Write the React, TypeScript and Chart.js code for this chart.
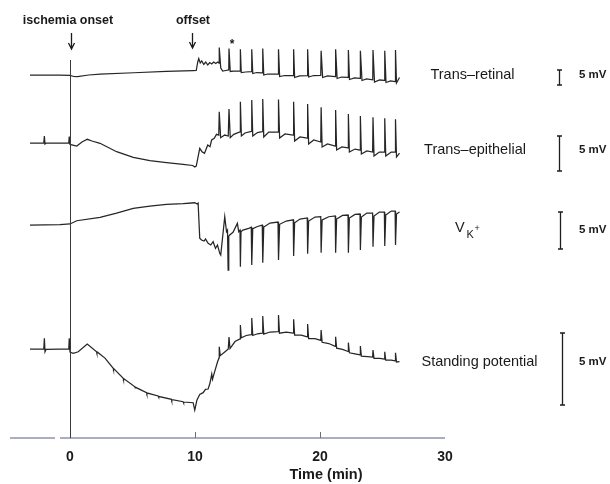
import { useEffect, useRef } from 'react';
import { Chart, registerables } from 'chart.js';

Chart.register(...registerables);

const FONT = "'Liberation Sans', Arial, Helvetica, sans-serif";

// Time axis (min)
const timeTicks = [0, 10, 20, 30];

// Traces: [time (min), potential change (mV) relative to baseline]
const transRetinal: [number, number][] = [
  [-3.2, 0], [-2.1, 0], [-0.8, -0.05], [0, -0.1], [0.3, -0.5], [0.6, -0.55], [1.5, 0], [2.4, 0.3], [5.1, 0.75], [7.7, 1.2], [9.85, 1.45], [10.1, 1.5],
  [10.22, 4.33], [10.3, 5.5], [10.42, 4.0], [10.54, 4.67], [10.7, 3.5], [10.86, 4.33], [11.02, 3.33], [11.18, 4.17], [11.34, 3.67], [11.5, 4.33], [11.66, 3.83], [11.82, 4.33], [11.92, 4.0],
  [11.94, 9.17], [12.06, 2.33], [12.22, 1.33], [12.46, 1.5], [12.7, 1.67],
  [12.72, 8.83], [12.82, 1.17], [13.1, 1.33], [13.6, 1.33],
  [13.63, 8.57], [13.7, 0.83], [14.06, 1.0], [14.51, 1.1],
  [14.54, 8.57], [14.62, 0.5], [14.94, 0.83], [15.38, 0.73],
  [15.42, 8.83], [15.5, 0], [15.81, 0.33], [16.64, 0.33],
  [16.68, 8.57], [16.77, -0.5], [17.17, -0.17], [17.86, -0.17],
  [17.89, 8.57], [17.97, -0.83], [18.37, -0.33], [18.99, -0.17],
  [19.01, 8.57], [19.09, -0.67], [19.49, -0.17], [20.06, -0.1],
  [20.09, 8.1], [20.21, -0.83], [20.61, -0.33], [21.22, -0.5],
  [21.25, 8.57], [21.37, -1.17], [21.73, -0.67], [22.24, -0.77],
  [22.27, 8.33], [22.36, -1.5], [22.76, -1.0], [23.2, -1.1],
  [23.23, 8.1], [23.36, -1.83], [23.72, -1.33], [24.22, -1.6],
  [24.24, 8.33], [24.36, -2.33], [24.76, -1.67], [25.16, -1.83],
  [25.18, 8.1], [25.28, -2.5], [25.64, -2.0], [26.02, -2.17],
  [26.04, 8.33], [26.12, -2.67], [26.36, -0.83],
];

const transEpithelial: [number, number][] = [
  [-3.2, 0], [-2.1, 0], [-2.05, 1.0], [-2.0, -0.14], [-1.9, 0], [-0.8, 0], [-0.1, 0], [-0.06, 0.93], [0, -0.21], [0.54, -0.43], [0.96, 0.14], [1.38, 0.53], [1.76, 0.29], [2.4, -0.04], [3.73, -1.24], [5.06, -2.04], [6.39, -2.53], [7.72, -2.81], [9.05, -3.04], [9.82, -3.21], [9.98, -3.43], [10.1, -3.3],
  [10.38, -0.76], [10.56, -1.24], [10.76, -1.47], [11.02, -0.29], [11.2, -0.53], [11.33, 0.43], [11.54, 0.67], [11.72, 1.24], [11.9, 1.14],
  [11.94, 4.47], [12.05, 0.76], [12.38, 1.14], [12.66, 1.0],
  [12.72, 4.86], [12.82, 0.76], [13.1, 1.24], [13.6, 1.6],
  [13.63, 5.9], [13.71, 1.0], [14.0, 1.43], [14.51, 1.67],
  [14.54, 6.14], [14.62, 1.0], [15.0, 1.5], [15.38, 1.62],
  [15.42, 6.29], [15.5, 0.86], [15.9, 1.57], [16.64, 1.57],
  [16.68, 6.21], [16.77, 0.71], [17.2, 1.29], [17.86, 1.14],
  [17.89, 5.9], [17.97, 0.29], [18.4, 0.86], [18.98, 0.71],
  [19.01, 5.57], [19.09, -0.14], [19.5, 0.43], [20.06, 0.14],
  [20.09, 5.1], [20.17, -0.57], [20.6, -0.14], [21.22, -0.43],
  [21.25, 4.71], [21.33, -1.0], [21.75, -0.57], [22.24, -0.71],
  [22.27, 4.14], [22.35, -1.29], [22.8, -0.86], [23.2, -1.0],
  [23.23, 3.86], [23.31, -1.57], [23.75, -1.14], [24.21, -1.29],
  [24.24, 3.67], [24.32, -1.86], [24.75, -1.29], [25.15, -1.29],
  [25.18, 3.53], [25.26, -1.86], [25.7, -1.29], [26.01, -1.29],
  [26.04, 3.39], [26.12, -2.0], [26.36, -1.43],
];

const vK: [number, number][] = [
  [-3.2, 0], [-0.8, 0.04], [0, 0.14], [0.54, 0.58], [2.4, 1.04], [3.73, 1.62], [5.06, 2.26], [6.39, 2.57], [7.72, 2.8], [9.05, 2.9], [9.98, 3.01], [10.18, 2.84], [10.25, 2.95],
  [10.38, -1.78], [10.52, -2.03], [10.73, -2.16], [10.84, -1.89], [11.05, -2.47], [11.26, -2.7], [11.45, -2.25], [11.64, -3.15], [11.8, -2.7], [11.98, -3.82], [12.06, -4.05],
  [12.38, 1.12], [12.52, -0.9], [12.6, -0.68],
  [12.65, -6.08], [12.7, -1.5], [12.78, -1.35], [13.04, -0.99], [13.39, 0.22], [13.5, -0.9], [13.6, -0.7],
  [13.63, -5.63], [13.68, -0.9], [13.83, -0.68], [14.3, -0.45], [14.5, -0.3],
  [14.54, -5.41], [14.62, -0.5], [15.0, -0.2], [15.38, 0],
  [15.42, -5.09], [15.5, -0.27], [16.0, 0.27], [16.64, 0.4],
  [16.68, -4.73], [16.77, 0.1], [17.3, 0.54], [17.86, 0.7],
  [17.89, -4.19], [17.97, 0.3], [18.4, 0.81], [18.98, 0.95],
  [19.01, -3.87], [19.09, 0.54], [19.6, 1.08], [20.06, 1.12],
  [20.09, -3.74], [20.17, 0.68], [20.7, 1.12], [21.22, 1.22],
  [21.25, -3.74], [21.33, 0.81], [21.8, 1.3], [22.24, 1.35],
  [22.27, -3.74], [22.35, 0.95], [22.8, 1.44], [23.2, 1.49],
  [23.23, -3.38], [23.31, 1.08], [23.75, 1.62], [24.21, 1.62],
  [24.24, -2.93], [24.32, 1.22], [24.75, 1.76], [25.15, 1.76],
  [25.18, -2.84], [25.26, 1.35], [25.7, 1.89], [26.01, 1.89],
  [26.04, -2.7], [26.12, 1.49], [26.36, 1.76],
];

const standingPotential: [number, number][] = [
  [-3.2, 0], [-2.1, 0], [-2.05, 0.74], [-2.0, -0.19], [-1.92, -0.03], [-0.8, 0], [-0.1, 0], [-0.06, 0.74], [0, -0.21], [0.26, -0.3], [0.66, -0.19], [1.38, 0.35], [2.13, -0.19], [2.15, -0.27], [2.2, -0.22], [2.8, -0.63],
  [3.46, -1.34], [3.48, -1.42], [3.52, -1.38], [4.26, -2.03], [4.28, -2.11], [4.32, -2.07], [5.19, -2.62], [5.21, -2.7], [5.25, -2.66], [6.13, -3.03], [6.15, -3.11], [6.19, -3.06], [7.05, -3.26], [7.07, -3.34], [7.11, -3.29], [8.12, -3.49], [8.14, -3.57], [8.18, -3.52], [9.05, -3.66], [9.07, -3.74], [9.11, -3.68], [9.85, -3.73],
  [9.98, -4.24], [10.15, -3.56], [10.38, -3.15], [10.65, -3.03], [10.84, -2.8], [11.05, -2.78], [11.2, -2.36], [11.34, -1.74], [11.4, -2.1], [11.55, -1.64], [11.8, -0.9], [11.92, -0.62],
  [11.94, 0.15], [12.02, -0.46], [12.38, -0.2], [12.66, 0.0],
  [12.72, 0.83], [12.8, 0.03], [13.2, 0.52], [13.6, 0.7],
  [13.63, 1.67], [13.7, 0.78], [14.1, 0.94], [14.5, 1.0],
  [14.54, 2.15], [14.62, 0.94], [15.0, 1.06], [15.38, 1.1],
  [15.42, 2.29], [15.5, 1.04], [16.0, 1.18], [16.64, 1.2],
  [16.68, 2.36], [16.76, 1.1], [17.3, 1.17], [17.86, 1.1],
  [17.89, 2.06], [17.97, 0.97], [18.5, 0.97], [18.98, 0.85],
  [19.01, 1.74], [19.09, 0.72], [19.6, 0.72], [20.06, 0.6],
  [20.09, 1.32], [20.17, 0.47], [20.7, 0.38], [21.22, 0.18],
  [21.25, 0.85], [21.33, 0.06], [21.8, -0.03], [22.24, -0.17],
  [22.27, 0.44], [22.35, -0.26], [22.8, -0.33], [23.2, -0.4],
  [23.23, 0.21], [23.31, -0.5], [23.8, -0.52], [24.21, -0.56],
  [24.24, -0.07], [24.32, -0.65], [24.8, -0.65], [25.15, -0.7],
  [25.18, -0.19], [25.26, -0.78], [25.7, -0.78], [26.01, -0.82],
  [26.04, -0.26], [26.12, -0.9], [26.36, -0.88],
];

const traceNames = ['Trans–retinal', 'Trans–epithelial', 'VK+', 'Standing potential'];
const scaleBarMv = 5;
const ischemiaOnset = 0;
const ischemiaOffset = 10;

export default function App() {
  const ref = useRef<HTMLCanvasElement>(null);

  useEffect(() => {
    if (!ref.current) return;
    const toXY = (a: [number, number][]) => a.map(([x, y]) => ({ x, y }));
    const lineColor = '#262626';

    const overlay = {
      id: 'overlay',
      afterDraw(chart: any) {
        const { ctx, chartArea, scales } = chart;
        const xs = scales.x;
        const bottom = chartArea.bottom;
        ctx.save();

        // time axis line with a small break
        ctx.strokeStyle = '#9094aa';
        ctx.lineWidth = 1.3;
        ctx.beginPath();
        ctx.moveTo(xs.getPixelForValue(-4.8), bottom);
        ctx.lineTo(xs.getPixelForValue(-1.2), bottom);
        ctx.moveTo(xs.getPixelForValue(-0.8), bottom);
        ctx.lineTo(xs.getPixelForValue(30), bottom);
        ctx.stroke();
        ctx.strokeStyle = '#6a6d80';
        ctx.lineWidth = 1;
        ctx.beginPath();
        [10, 20].forEach((v) => {
          const px = Math.round(xs.getPixelForValue(v)) + 0.5;
          ctx.moveTo(px, bottom);
          ctx.lineTo(px, bottom - 6);
        });
        ctx.stroke();

        // vertical line at ischemia onset
        const x0 = Math.round(xs.getPixelForValue(ischemiaOnset)) + 0.5;
        ctx.strokeStyle = '#3a3a3a';
        ctx.lineWidth = 1;
        ctx.beginPath();
        ctx.moveTo(x0, 60);
        ctx.lineTo(x0, bottom);
        ctx.stroke();

        // arrows
        const arrow = (x: number, y1: number, y2: number) => {
          ctx.strokeStyle = '#1a1a1a';
          ctx.lineWidth = 1.3;
          ctx.beginPath();
          ctx.moveTo(x, y1);
          ctx.lineTo(x, y2);
          ctx.moveTo(x - 3, y2 - 6);
          ctx.lineTo(x, y2);
          ctx.lineTo(x + 3, y2 - 6);
          ctx.stroke();
        };
        arrow(xs.getPixelForValue(ischemiaOnset) + 1.5, 33, 49);
        arrow(xs.getPixelForValue(ischemiaOffset) - 2.5, 33, 48);

        ctx.fillStyle = '#1a1a1a';
        ctx.textAlign = 'center';
        ctx.textBaseline = 'middle';
        ctx.font = `bold 12.5px ${FONT}`;
        ctx.fillText('ischemia onset', 68, 21);
        ctx.fillText('offset', xs.getPixelForValue(ischemiaOffset) - 2, 21);
        ctx.textBaseline = 'alphabetic';
        ctx.font = `bold 12px ${FONT}`;
        ctx.fillText('*', 232, 48);

        // axis title
        ctx.textBaseline = 'middle';
        ctx.font = `bold 14.5px ${FONT}`;
        ctx.fillText('Time (min)', 326, 475);

        // trace labels
        ctx.font = `14.5px ${FONT}`;
        ctx.fillStyle = '#1a1a1a';
        ctx.fillText(traceNames[0], 472.5, 75);
        ctx.fillText(traceNames[1], 475, 150);
        ctx.fillText(traceNames[3], 479.5, 362);
        ctx.textAlign = 'left';
        ctx.fillText('V', 455, 228);
        ctx.font = `11px ${FONT}`;
        ctx.fillText('K', 466.5, 235);
        ctx.font = `9px ${FONT}`;
        ctx.fillText('+', 474.5, 229);

        // 5 mV scale bars (length from each trace's own scale)
        const bars = [
          { id: 'yTR', x: 559.5, top: 70, ly: 75 },
          { id: 'yTEP', x: 559.5, top: 136, ly: 150 },
          { id: 'yVK', x: 560.5, top: 212, ly: 230 },
          { id: 'ySP', x: 562.5, top: 333, ly: 362 },
        ];
        ctx.strokeStyle = '#1e1e1e';
        ctx.lineWidth = 1.3;
        bars.forEach((b) => {
          const s = scales[b.id];
          const vTop = s.getValueForPixel(b.top);
          const yBot = s.getPixelForValue(vTop - scaleBarMv);
          ctx.beginPath();
          ctx.moveTo(b.x, b.top);
          ctx.lineTo(b.x, yBot);
          ctx.moveTo(b.x - 2.5, b.top);
          ctx.lineTo(b.x + 2.5, b.top);
          ctx.moveTo(b.x - 2.5, yBot);
          ctx.lineTo(b.x + 2.5, yBot);
          ctx.stroke();
          ctx.font = `bold 11.5px ${FONT}`;
          ctx.fillText(`${scaleBarMv} mV`, 579, b.ly);
        });

        ctx.restore();
      },
    };

    const ds = (data: [number, number][], yAxisID: string, label: string) => ({
      label,
      data: toXY(data),
      yAxisID,
      borderColor: lineColor,
      borderWidth: 1.25,
      pointRadius: 0,
      tension: 0,
      fill: false,
    });

    const chart = new Chart(ref.current, {
      type: 'line',
      data: {
        datasets: [
          ds(transRetinal, 'yTR', traceNames[0]),
          ds(transEpithelial, 'yTEP', traceNames[1]),
          ds(vK, 'yVK', traceNames[2]),
          ds(standingPotential, 'ySP', traceNames[3]),
        ] as any,
      },
      options: {
        responsive: false,
        animation: false,
        layout: { padding: { left: 10, right: 165, top: 0, bottom: 0 } },
        plugins: { legend: { display: false }, tooltip: { enabled: false } },
        scales: {
          x: {
            type: 'linear',
            min: -4.8,
            max: 30,
            afterBuildTicks: (axis: any) => {
              axis.ticks = timeTicks.map((v) => ({ value: v }));
            },
            afterFit: (axis: any) => {
              axis.height = 46;
            },
            grid: { display: false, drawTicks: false },
            border: { display: false },
            ticks: {
              font: { family: FONT, size: 14, weight: 'bold' },
              color: '#1a1a1a',
              padding: 11,
              maxRotation: 0,
            },
          },
          yTR: { type: 'linear', display: false, min: -121, max: 25 },
          yTEP: { type: 'linear', display: false, min: -42.14, max: 20.43 },
          yVK: { type: 'linear', display: false, min: -28.78, max: 30.41 },
          ySP: { type: 'linear', display: false, min: -6.18, max: 24.24 },
        } as any,
      },
      plugins: [overlay],
    });
    return () => chart.destroy();
  }, []);

  return (
    <div style={{ position: 'fixed', left: 0, top: 0, width: 610, height: 484, background: '#fff' }}>
      <canvas ref={ref} width={610} height={484} style={{ display: 'block' }} />
    </div>
  );
}
